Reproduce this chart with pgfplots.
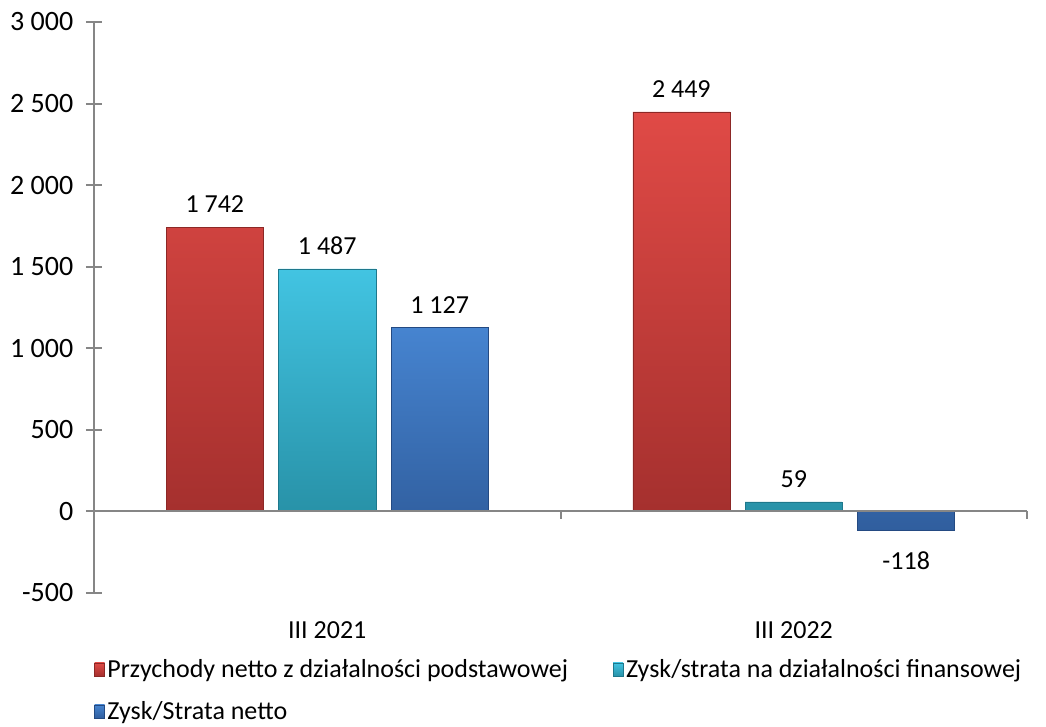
\documentclass[border=0pt]{standalone}
\usepackage{pgfplots}
\pgfplotsset{compat=1.18}
\usepackage{fontspec}
\setmainfont{Carlito}
\definecolor{axgray}{RGB}{134,134,134}
\definecolor{redT}{RGB}{224,74,70}
\definecolor{redB}{RGB}{165,48,46}
\definecolor{redE}{RGB}{140,40,38}
\definecolor{cyanT}{RGB}{66,196,226}
\definecolor{cyanB}{RGB}{40,146,168}
\definecolor{cyanE}{RGB}{30,120,140}
\definecolor{blueT}{RGB}{70,132,208}
\definecolor{blueB}{RGB}{48,94,158}
\definecolor{blueE}{RGB}{36,74,130}
\begin{document}
\begin{tikzpicture}[font=\fontsize{19.5}{23.4}\selectfont]
\begin{axis}[name=ax,
  scale only axis, width=699.75pt, height=428.25pt,
  xmin=-0.5, xmax=1.5, ymin=-500, ymax=3000,
  ytick={-500,0,500,1000,1500,2000,2500,3000},
  xtick={0,1}, xticklabels={III 2021, III 2022},
  axis y line*=left, axis x line*=bottom,
  x axis line style={draw=none},
  y axis line style={-, draw=axgray, line width=1.5pt},
  xtick style={draw=none},
  ytick style={draw=axgray, line width=1.5pt},
  tick align=center, major tick length=12pt,
  /pgf/number format/assume math mode=true,
  /pgf/number format/1000 sep={\ },
  yticklabel style={xshift=-6pt, font=\fontsize{21}{25}\selectfont},
  xticklabel style={yshift=-6pt},
  clip=false,
  ybar, bar width=0.208,
  nodes near coords,
  every node near coord/.append style={inner ysep=10.5pt},
  legend columns=2,
  legend cell align=left,
  legend style={draw=none, fill=none, at={(0,-0.116)}, anchor=north west,
    inner sep=0pt, row sep=16.5pt,
    /tikz/every even column/.append style={column sep=31.5pt},
    nodes={inner xsep=2pt, inner ysep=0pt}},
  legend image code/.code={\draw[#1, line width=0.4pt] (0pt,-5pt) rectangle (7.5pt,5pt);},
]
\addplot[bar shift=-0.241, draw=redE, top color=redT, bottom color=redB] coordinates {(0,1742) (1,2449)};
\addplot[bar shift=0, draw=cyanE, top color=cyanT, bottom color=cyanB] coordinates {(0,1487) (1,59)};
\addplot[bar shift=0.241, draw=blueE, top color=blueT, bottom color=blueB,
  coordinate style/.condition={y<0}{yshift=-5pt}] coordinates {(0,1127) (1,-118)};
\draw[axgray, line width=1.5pt] (axis cs:-0.5,0) -- (axis cs:1.5,0);
\draw[axgray, line width=1.5pt] (axis cs:0.5,0) -- ([yshift=-6pt]axis cs:0.5,0);
\draw[axgray, line width=1.5pt] (axis cs:1.5,0) -- ([yshift=-6pt]axis cs:1.5,0);
\legend{Przychody netto z działalności podstawowej, Zysk/strata na działalności finansowej, Zysk/Strata netto}
\end{axis}
\pgfresetboundingbox
\path[use as bounding box] ([xshift=-70.5pt,yshift=16.5pt]ax.north west) rectangle ++(784.5pt,-544.5pt);
\end{tikzpicture}
\end{document}
